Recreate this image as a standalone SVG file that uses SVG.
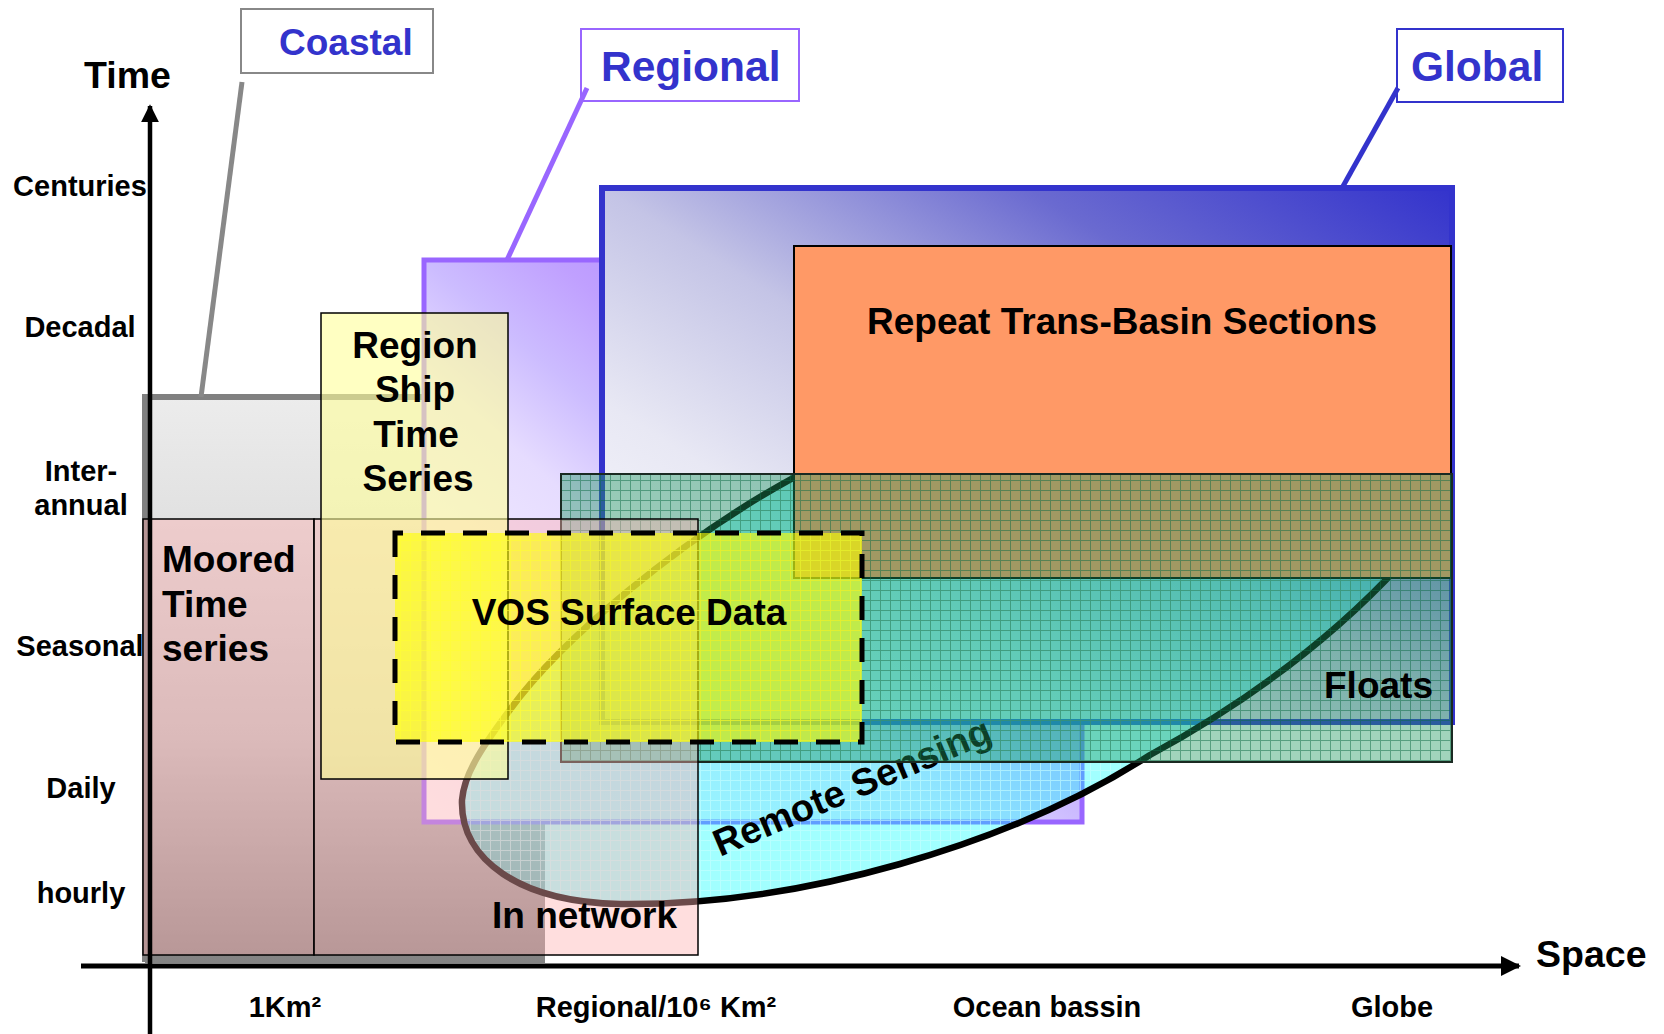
<svg xmlns="http://www.w3.org/2000/svg" width="1664" height="1034" viewBox="0 0 1664 1034">
<style>
text{font-family:"Liberation Sans",Arial,sans-serif;font-weight:bold;fill:#000}
.tick{font-size:29px;text-anchor:middle}
.lbl{font-size:37px}
.mid{text-anchor:middle}
.ttl{font-size:42.5px;fill:#3333cc}
.edge{fill:none;stroke:#000;stroke-width:1.5}
</style>
<defs>
<linearGradient id="gCoastal" gradientUnits="userSpaceOnUse" x1="0" y1="397" x2="0" y2="962">
<stop offset="0" stop-color="#ececec"/><stop offset="0.2" stop-color="#e2e2e2"/><stop offset="0.6" stop-color="#c2c2c2"/><stop offset="1" stop-color="#848484"/>
</linearGradient>
<linearGradient id="gRegional" x1="1" y1="0" x2="0" y2="1">
<stop offset="0" stop-color="#9966ff"/><stop offset="0.4" stop-color="#c0a0ff"/><stop offset="0.5" stop-color="#ccbcff"/><stop offset="0.6" stop-color="#e6dcff"/><stop offset="1" stop-color="#ffffff"/>
</linearGradient>
<linearGradient id="gGlobal" x1="1" y1="0" x2="0" y2="1">
<stop offset="0" stop-color="#3333cc"/><stop offset="0.25" stop-color="#6a6ad0"/><stop offset="0.5" stop-color="#c4c4e6"/><stop offset="0.7" stop-color="#e8e8f4"/><stop offset="1" stop-color="#ffffff"/>
</linearGradient>
<pattern id="pPink" width="10" height="10" patternUnits="userSpaceOnUse"><path d="M0 0.5H10M0.5 0V10" fill="none" stroke="#ffd6d6" stroke-width="1"/></pattern>
<pattern id="pGreen" width="10" height="10" patternUnits="userSpaceOnUse"><path d="M0 0.5H10M0.5 0V10" fill="none" stroke="#0d6b45" stroke-width="1"/></pattern>
<pattern id="pYellow" width="10" height="10" patternUnits="userSpaceOnUse"><path d="M0 0.5H10M0.5 0V10" fill="none" stroke="#eeee50" stroke-width="1"/></pattern>
<pattern id="pVos" width="10" height="10" patternUnits="userSpaceOnUse"><path d="M0 0.5H10M0.5 0V10" fill="none" stroke="#ffff30" stroke-width="1"/></pattern>
<pattern id="pCyan" width="10" height="10" patternUnits="userSpaceOnUse"><path d="M0 0.5H10M0.5 0V10" fill="none" stroke="#c8ffff" stroke-width="1"/></pattern>
<marker id="arrow" viewBox="0 0 10 10" refX="9" refY="5" markerWidth="4" markerHeight="4" orient="auto" markerUnits="strokeWidth">
<path d="M0 0L10 5L0 10Z" fill="#000"/>
</marker>
</defs>

<g id="node-coastal">
<rect x="145" y="397" width="400" height="566" fill="url(#gCoastal)"/>
<path d="M145 962V397H545" fill="none" stroke="#808080" stroke-width="6"/>
</g>

<g id="node-regional">
<rect x="424" y="260" width="658" height="562" fill="url(#gRegional)" stroke="#9966ff" stroke-width="5"/>
</g>

<g id="node-global">
<rect x="602" y="188" width="850" height="534" fill="url(#gGlobal)" stroke="#3333cc" stroke-width="6"/>
</g>

<g id="node-remote-sensing">
<path d="M462 800C460 860 520 902 620 904C800 906 1010 845 1150 755C1260 695 1340 630 1400 565C1460 500 1450 400 1400 360C1300 300 1000 360 793 478C680 540 560 640 509 711C480 750 464 775 462 800Z" fill="#00ffff" fill-opacity="0.37"/>
<path d="M462 800C460 860 520 902 620 904C800 906 1010 845 1150 755C1260 695 1340 630 1400 565C1460 500 1450 400 1400 360C1300 300 1000 360 793 478C680 540 560 640 509 711C480 750 464 775 462 800Z" fill="url(#pCyan)" fill-opacity="0.6" stroke="#000" stroke-width="6.5"/>
<text transform="translate(720 857) rotate(-23)" style="font-size:38px">Remote Sensing</text>
</g>

<g id="node-repeat">
<rect x="794" y="246" width="657" height="332" fill="#ff9966" stroke="#000" stroke-width="2"/>
<text class="lbl mid" x="1122" y="334">Repeat Trans-Basin Sections</text>
</g>

<g id="node-floats">
<rect x="561" y="474" width="891" height="288" fill="#1f9960" fill-opacity="0.42"/>
<rect x="561" y="474" width="891" height="288" fill="url(#pGreen)" fill-opacity="0.5" stroke="#1a2a22" stroke-width="2"/>
<text class="lbl" x="1324" y="698">Floats</text>
</g>

<g id="node-moored">
<rect x="143" y="519" width="171" height="436" fill="#ffb0b0" fill-opacity="0.42"/>
<rect x="143" y="519" width="171" height="436" fill="url(#pPink)" fill-opacity="0.5" class="edge"/>
<text class="lbl" x="162" y="572">Moored</text>
<text class="lbl" x="162" y="617">Time</text>
<text class="lbl" x="162" y="661">series</text>
</g>

<g id="node-in-network">
<rect x="314" y="519" width="384" height="436" fill="#ffb0b0" fill-opacity="0.42"/>
<rect x="314" y="519" width="384" height="436" fill="url(#pPink)" fill-opacity="0.5" class="edge"/>
<text class="lbl" x="492" y="928">In network</text>
</g>

<g id="node-region-ship">
<rect x="321" y="313" width="187" height="466" fill="#ffff99" fill-opacity="0.6"/>
<rect x="321" y="313" width="187" height="466" fill="url(#pYellow)" fill-opacity="0.5" class="edge"/>
<text class="lbl mid" x="415" y="358">Region</text>
<text class="lbl mid" x="415" y="402">Ship</text>
<text class="lbl mid" x="416" y="447">Time</text>
<text class="lbl mid" x="418" y="491">Series</text>
</g>

<g id="node-vos">
<rect x="395" y="533" width="467" height="209" fill="#ffff00" fill-opacity="0.6"/>
<rect x="395" y="533" width="467" height="209" fill="url(#pVos)" fill-opacity="0.6" stroke="#000" stroke-width="5" stroke-dasharray="24 18" stroke-dashoffset="16"/>
<text class="lbl mid" x="629" y="625">VOS Surface Data</text>
</g>

<g id="node-label-coastal">
<rect x="241" y="9" width="192" height="64" fill="#fff" stroke="#888" stroke-width="2"/>
<text x="279" y="55" style="font-size:37px;fill:#3333cc">Coastal</text>
</g>
<g id="node-label-regional">
<rect x="581" y="29" width="218" height="72" fill="#fff" stroke="#9966ff" stroke-width="2"/>
<text class="ttl" x="601" y="81">Regional</text>
</g>
<g id="node-label-global">
<rect x="1397" y="29" width="166" height="73" fill="#fff" stroke="#3333cc" stroke-width="2"/>
<text class="ttl" x="1411" y="81">Global</text>
</g>

<g id="connectors">
<line x1="242" y1="82" x2="201" y2="397" stroke="#888" stroke-width="5"/>
<line x1="587" y1="88" x2="507" y2="260" stroke="#9966ff" stroke-width="5"/>
<line x1="1398" y1="88" x2="1342" y2="188" stroke="#3333cc" stroke-width="5"/>
</g>

<g id="axes">
<line x1="150" y1="1034" x2="150" y2="106" stroke="#000" stroke-width="4.5" marker-end="url(#arrow)"/>
<line x1="81" y1="966" x2="1519" y2="966" stroke="#000" stroke-width="5" marker-end="url(#arrow)"/>
<text x="84" y="88" style="font-size:37.5px">Time</text>
<text x="1536" y="967" style="font-size:37.5px">Space</text>
<text class="tick" x="80" y="196">Centuries</text>
<text class="tick" x="80" y="337">Decadal</text>
<text class="tick" x="81" y="481">Inter-</text>
<text class="tick" x="81" y="515">annual</text>
<text class="tick" x="80" y="656">Seasonal</text>
<text class="tick" x="81" y="798">Daily</text>
<text class="tick" x="81" y="903">hourly</text>
<text class="tick" x="285" y="1017">1Km²</text>
<text class="tick" x="656" y="1017">Regional/10⁶ Km²</text>
<text class="tick" x="1047" y="1017">Ocean bassin</text>
<text class="tick" x="1392" y="1017">Globe</text>
</g>
</svg>
